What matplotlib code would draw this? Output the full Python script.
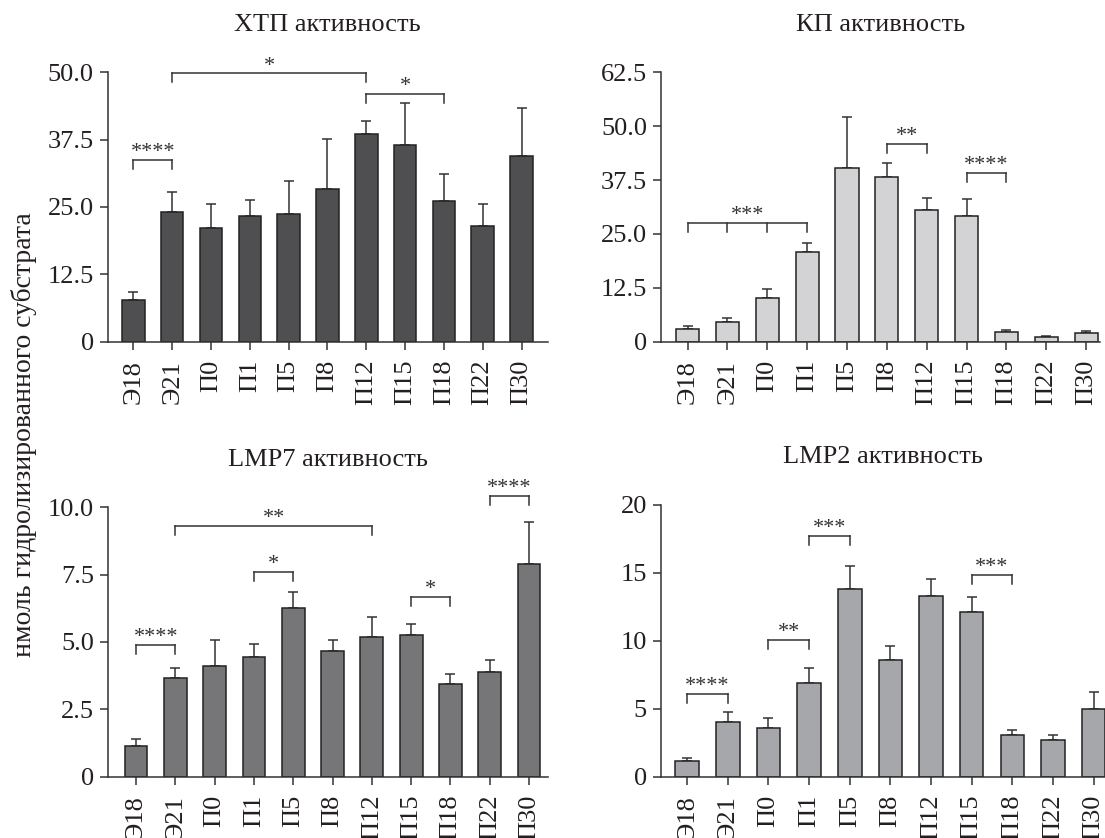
import matplotlib
matplotlib.use('Agg')
import matplotlib.pyplot as plt
import numpy as np

plt.rcParams['font.family'] = ['Liberation Serif', 'DejaVu Serif']

ages = ['Э18', 'Э21', 'П0', 'П1', 'П5', 'П8', 'П12', 'П15', 'П18', 'П22', 'П30']

# ХТП (chymotrypsin-like)
htp_mean = [7.7, 24.0, 21.0, 23.4, 23.6, 28.3, 38.6, 36.5, 26.1, 21.5, 34.4]
htp_err = [1.5, 3.8, 4.5, 2.8, 6.2, 9.4, 2.4, 7.8, 5.0, 4.1, 8.9]
htp_sig = [([0, 1], '****', 33.7), ([1, 6], '*', 49.8), ([6, 8], '*', 46.0)]

# КП (caspase-like)
kp_mean = [3.0, 4.6, 10.1, 20.9, 40.4, 38.3, 30.5, 29.2, 2.2, 1.1, 2.1]
kp_err = [0.6, 0.9, 2.0, 2.1, 11.8, 3.2, 2.9, 3.9, 0.4, 0.2, 0.3]
kp_sig = [([0, 1, 2, 3], '***', 27.5), ([5, 6], '**', 45.8), ([7, 8], '****', 39.2)]

# LMP7
lmp7_mean = [1.15, 3.68, 4.12, 4.43, 6.26, 4.67, 5.17, 5.24, 3.45, 3.90, 7.91]
lmp7_err = [0.24, 0.34, 0.97, 0.50, 0.61, 0.42, 0.77, 0.44, 0.36, 0.44, 1.53]
lmp7_sig = [([0, 1], '****', 4.89), ([1, 6], '**', 9.31), ([3, 4], '*', 7.59),
            ([7, 8], '*', 6.68), ([9, 10], '****', 10.42)]

# LMP2
lmp2_mean = [1.15, 4.01, 3.60, 6.93, 13.78, 8.59, 13.27, 12.12, 3.08, 2.72, 4.99]
lmp2_err = [0.20, 0.76, 0.71, 1.10, 1.76, 1.01, 1.25, 1.07, 0.37, 0.36, 1.23]
lmp2_sig = [([0, 1], '****', 6.1), ([2, 3], '**', 10.06), ([3, 4], '***', 17.7),
            ([7, 8], '***', 14.88)]

FS = 19
LINE = '#333333'


def draw_panel(fig, rect, title, mean, err, color, yticks, yticklabels, xlim, sig):
    ax = fig.add_axes(rect)
    x = np.arange(len(ages))
    ax.bar(x, mean, width=0.58, color=color, edgecolor='#222222', linewidth=1.1, zorder=2)
    ax.errorbar(x, mean, yerr=[np.zeros(len(err)), err], fmt='none', ecolor=LINE,
                elinewidth=1.1, capsize=3.6, capthick=1.1, zorder=1)

    ymax = yticks[-1]
    ax.set_ylim(0, ymax)
    ax.set_xlim(*xlim)
    ax.set_yticks(yticks)
    ax.set_yticklabels(yticklabels)
    ax.set_xticks(x)
    ax.set_xticklabels(ages, rotation=90)
    ax.tick_params(axis='both', direction='out', length=6, width=1.1, color=LINE,
                   labelsize=FS, labelcolor='#231f20')
    ax.tick_params(axis='y', pad=4)
    ax.tick_params(axis='x', pad=7)
    for side in ['top', 'right']:
        ax.spines[side].set_visible(False)
    for side in ['left', 'bottom']:
        ax.spines[side].set_linewidth(1.1)
        ax.spines[side].set_color(LINE)
    ax.set_title(title, fontsize=FS, pad=30, color='#231f20')

    # significance brackets, legs drop about 9 px
    drop = ymax * 9.0 / 269.0
    for pos, label, h in sig:
        ax.plot([pos[0], pos[-1]], [h, h], color=LINE, lw=1.1, clip_on=False)
        for p in pos:
            ax.plot([p, p], [h, h - drop], color=LINE, lw=1.1, clip_on=False)
        ax.annotate(label, xy=((pos[0] + pos[-1]) / 2.0, h), xytext=(0, 2),
                    textcoords='offset points', ha='center', va='baseline',
                    fontsize=16, color=LINE, annotation_clip=False)
    return ax


def main():
    fig = plt.figure(figsize=(11.05, 8.38), dpi=100)

    draw_panel(fig, [0.0975, 0.5923, 0.398, 0.3215], 'ХТП активность', htp_mean, htp_err,
               '#4f4f51', [0, 12.5, 25, 37.5, 50], ['0', '12.5', '25.0', '37.5', '50.0'],
               (-0.66, 10.67), htp_sig)
    draw_panel(fig, [0.598, 0.5923, 0.3976, 0.3215], 'КП активность', kp_mean, kp_err,
               '#d3d3d5', [0, 12.5, 25, 37.5, 50, 62.5],
               ['0', '12.5', '25.0', '37.5', '50.0', '62.5'], (-0.67, 10.35), kp_sig)
    draw_panel(fig, [0.0975, 0.0732, 0.398, 0.3215], 'LMP7 активность', lmp7_mean, lmp7_err,
               '#767679', [0, 2.5, 5, 7.5, 10], ['0', '2.5', '5.0', '7.5', '10.0'],
               (-0.72, 10.47), lmp7_sig)
    draw_panel(fig, [0.598, 0.0732, 0.402, 0.3242], 'LMP2 активность', lmp2_mean, lmp2_err,
               '#a6a7aa', [0, 5, 10, 15, 20], ['0', '5', '10', '15', '20'],
               (-0.65, 10.28), lmp2_sig)

    fig.text(0.022, 0.481, 'нмоль гидролизированного субстрата', rotation=90,
             ha='center', va='center', fontsize=20, color='#231f20')

    fig.savefig('out.png', dpi=100)


if __name__ == '__main__':
    main()
